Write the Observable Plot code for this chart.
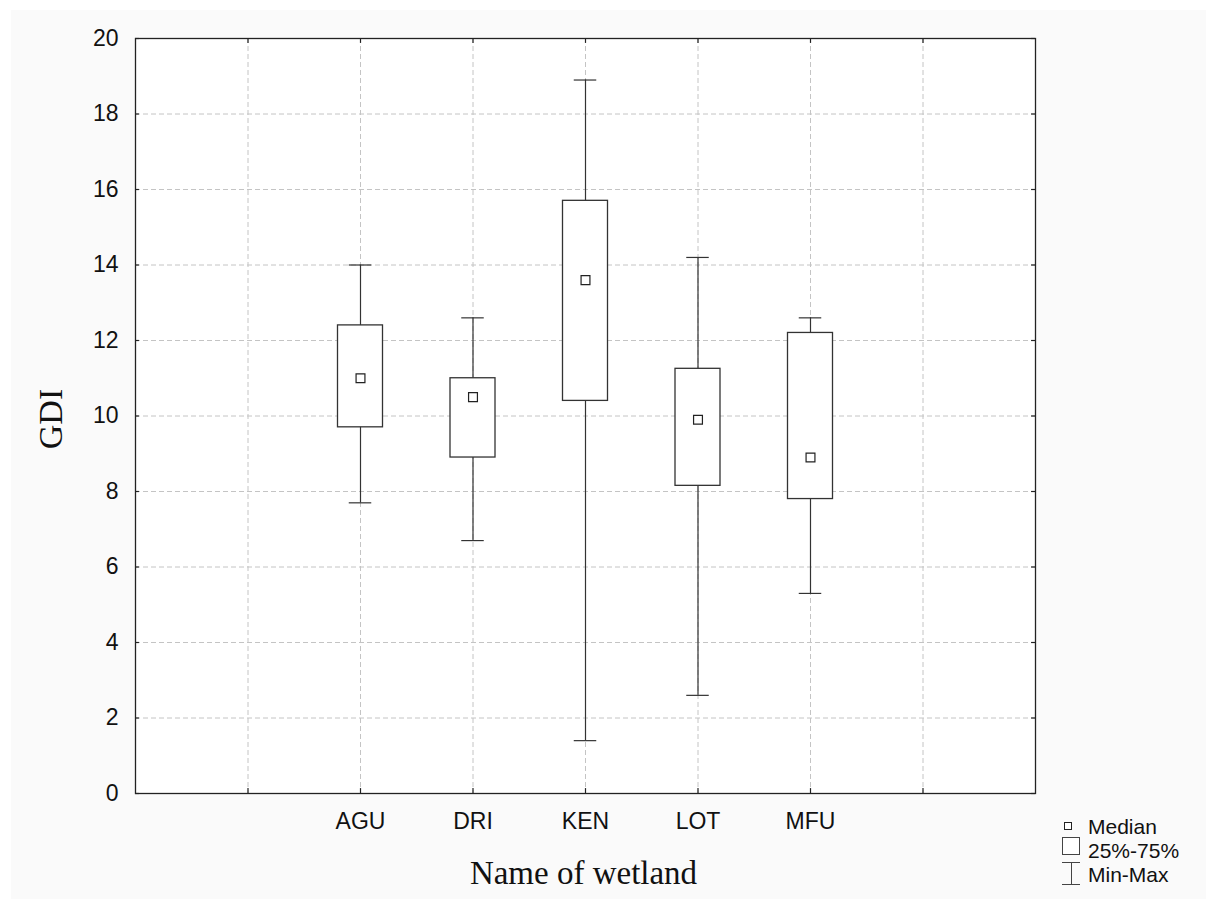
<!DOCTYPE html>
<html>
<head>
<meta charset="utf-8">
<script src="https://cdn.jsdelivr.net/npm/d3@7"></script>
<script src="https://cdn.jsdelivr.net/npm/@observablehq/plot@0.6"></script>
<style>
  html, body { margin: 0; padding: 0; background: #ffffff; }
  #wrap { position: relative; width: 1206px; height: 899px; overflow: hidden; }
  #chart { position: absolute; left: 11px; top: 10px; }
  #chart svg { background: #fafafa; display: block; }
  #legend { position: absolute; left: 0; top: 0; }
</style>
</head>
<body>
<div id="wrap">
  <div id="chart"></div>
  <svg id="legend" width="1206" height="899"></svg>
</div>
<script>
// ---- data ----
const wetlands = ["AGU", "DRI", "KEN", "LOT", "MFU"];
const minValues = [7.7, 6.7, 1.4, 2.6, 5.3];
const q1Values = [9.7, 8.9, 10.4, 8.15, 7.8];
const medianValues = [11.0, 10.5, 13.6, 9.9, 8.9];
const q3Values = [12.4, 11.0, 15.7, 11.25, 12.2];
const maxValues = [14.0, 12.6, 18.9, 14.2, 12.6];
const yTicks = [0, 2, 4, 6, 8, 10, 12, 14, 16, 18, 20];
const xPositions = [2, 3, 4, 5, 6];
const xGrid = [1, 2, 3, 4, 5, 6, 7];
const legendItems = ["Median", "25%-75%", "Min-Max"];

const rows = wetlands.map((name, i) => ({
  name,
  pos: xPositions[i],
  min: minValues[i],
  q1: q1Values[i],
  median: medianValues[i],
  q3: q3Values[i],
  max: maxValues[i]
}));

const sans = "'Liberation Sans', Arial, sans-serif";
const serif = "'Liberation Serif', 'Times New Roman', serif";
const ink = "#333";

const chart = Plot.plot({
  width: 1195,
  height: 889,
  marginLeft: 124,
  marginTop: 28,
  marginRight: 171,
  marginBottom: 106,
  style: { fontFamily: sans, fontSize: "23px", color: "#111", background: "#fafafa" },
  x: { domain: [0, 8] },
  y: { domain: [0, 20] },
  marks: [
    Plot.frame({ fill: "white", stroke: "none" }),
    // dashed grid
    Plot.ruleX(xGrid, { x: d => d, stroke: "#c4c4c4", strokeDasharray: "5,3", strokeWidth: 1 }),
    Plot.ruleY(yTicks.slice(1, -1), { y: d => d, stroke: "#c4c4c4", strokeDasharray: "5,3", strokeWidth: 1 }),
    // whiskers
    Plot.ruleX(rows, { x: "pos", y1: "min", y2: "max", stroke: ink, strokeWidth: 1.2 }),
    Plot.ruleY(rows, { y: "max", x1: d => d.pos - 0.1, x2: d => d.pos + 0.1, stroke: ink, strokeWidth: 1.2 }),
    Plot.ruleY(rows, { y: "min", x1: d => d.pos - 0.1, x2: d => d.pos + 0.1, stroke: ink, strokeWidth: 1.2 }),
    // boxes
    Plot.rect(rows, { x1: d => d.pos - 0.2, x2: d => d.pos + 0.2, y1: "q1", y2: "q3", fill: "white", stroke: ink, strokeWidth: 1.3 }),
    // median markers
    Plot.dot(rows, { x: "pos", y: "median", symbol: "square", r: 5, fill: "white", stroke: "#222", strokeWidth: 1.2 }),
    // inward ticks
    Plot.ruleX(xGrid, { x: d => d, y1: 0, y2: 0.13, stroke: "#222", strokeWidth: 1.2 }),
    Plot.ruleX(xGrid, { x: d => d, y1: 20, y2: 19.87, stroke: "#222", strokeWidth: 1.2 }),
    Plot.ruleY(yTicks, { y: d => d, x1: 0, x2: 0.035, stroke: "#222", strokeWidth: 1.2 }),
    Plot.ruleY(yTicks, { y: d => d, x1: 8, x2: 7.965, stroke: "#222", strokeWidth: 1.2 }),
    Plot.frame({ stroke: "#222", strokeWidth: 1.3 }),
    // axes
    Plot.axisY({ ticks: yTicks, tickSize: 0, tickPadding: 17, label: null, fontSize: "23px" }),
    Plot.axisX({ ticks: xPositions, tickFormat: (d) => wetlands[xPositions.indexOf(d)], tickSize: 0, tickPadding: 19, label: null, fontSize: "23px" }),
    // axis titles
    Plot.text(["GDI"], { text: d => d, frameAnchor: "left", dx: -84, dy: 3, rotate: -90, textAnchor: "middle", lineAnchor: "middle", fontFamily: serif, fontSize: 34, fill: "#111" }),
    Plot.text(["Name of wetland"], { text: d => d, frameAnchor: "bottom", dx: -2, dy: 90, textAnchor: "middle", lineAnchor: "bottom", fontFamily: serif, fontSize: 33, fill: "#111" })
  ]
});
document.getElementById("chart").appendChild(chart);

// ---- legend ----
const lg = d3.select("#legend");
const lx = 1062, textX = 1088;
// median square
lg.append("rect").attr("x", 1064.5).attr("y", 822.5).attr("width", 7).attr("height", 7)
  .attr("fill", "white").attr("stroke", "#222").attr("stroke-width", 1);
// box
lg.append("rect").attr("x", lx + 0.5).attr("y", 837.5).attr("width", 17).attr("height", 17)
  .attr("fill", "white").attr("stroke", "#444").attr("stroke-width", 1);
// min-max symbol
lg.append("line").attr("x1", lx).attr("x2", lx + 18).attr("y1", 862.5).attr("y2", 862.5).attr("stroke", "#444");
lg.append("line").attr("x1", lx).attr("x2", lx + 18).attr("y1", 884.5).attr("y2", 884.5).attr("stroke", "#444");
lg.append("line").attr("x1", lx + 9.5).attr("x2", lx + 9.5).attr("y1", 862.5).attr("y2", 884.5).attr("stroke", "#444");
const baselines = [834, 858, 882];
legendItems.forEach((t, i) => {
  lg.append("text").attr("x", textX).attr("y", baselines[i])
    .attr("font-family", sans).attr("font-size", 21).attr("fill", "#111").text(t);
});
</script>
</body>
</html>
